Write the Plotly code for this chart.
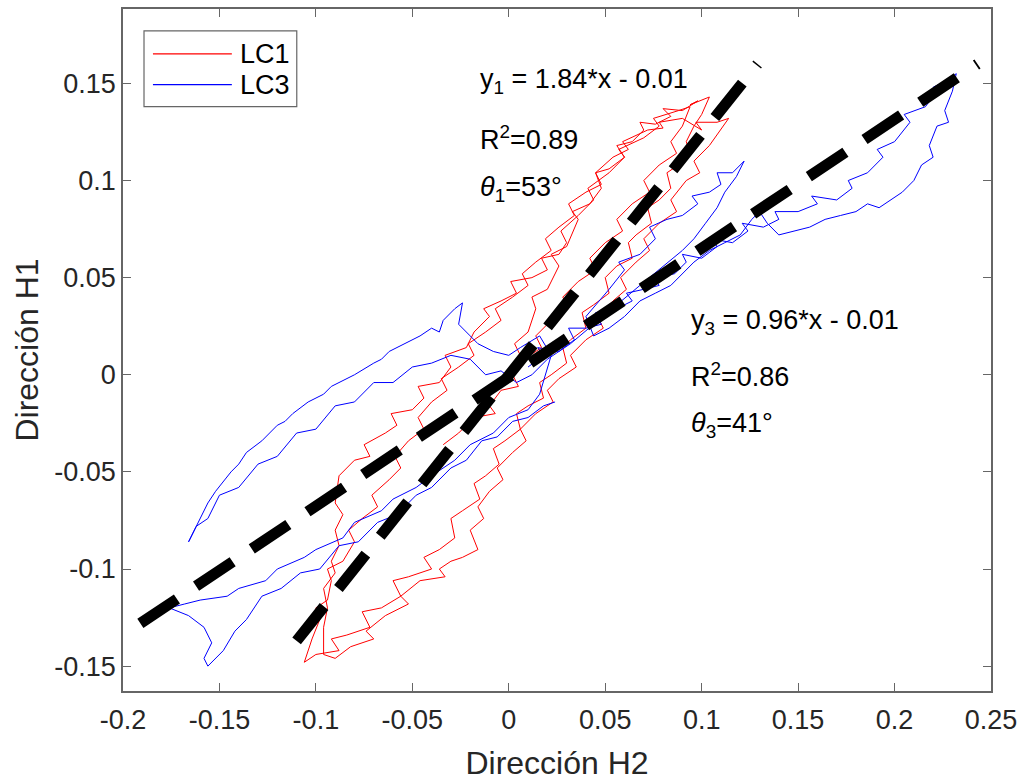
import plotly.graph_objects as go

# ---------------- data ----------------
lc1_x = [0.000, 0.006, 0.003, 0.010, 0.014, 0.012, 0.020, 0.026, 0.022, 0.030, 0.036, 0.033, 0.042, 0.048, 0.045,
         0.052, 0.060, 0.056, 0.064, 0.070, 0.068, 0.076, 0.084, 0.080, 0.090, 0.098, 0.094, 0.104,
         0.100, 0.096, 0.092, 0.094, 0.088, 0.082, 0.084, 0.078, 0.072, 0.074, 0.066, 0.062, 0.064, 0.056, 0.050,
         0.052, 0.044, 0.038, 0.040, 0.032, 0.028, 0.030, 0.022, 0.016, 0.018, 0.010, 0.004, 0.006, -0.002, -0.008,
         -0.005, -0.012, -0.018, -0.015, -0.024, -0.030, -0.028, -0.036, -0.044, -0.040, -0.052, -0.060, -0.056,
         -0.066, -0.076, -0.072, -0.084, -0.092, -0.088, -0.100, -0.106,
         -0.102, -0.098, -0.100, -0.094, -0.092, -0.094, -0.086, -0.080, -0.083, -0.076, -0.068, -0.071, -0.062,
         -0.056, -0.059, -0.052, -0.044, -0.047, -0.040, -0.032, -0.035, -0.026, -0.018, -0.021, -0.012, -0.004,
         -0.007, 0.002, 0.010, 0.007, 0.014, 0.022, 0.019, 0.026, 0.034, 0.031, 0.040, 0.048, 0.045, 0.054,
         0.062, 0.059, 0.072, 0.080, 0.078, 0.090, 0.100, 0.097, 0.108, 0.114,
         0.104, 0.096, 0.099, 0.092, 0.084, 0.087, 0.078, 0.070, 0.073, 0.066, 0.058, 0.061, 0.054, 0.046, 0.049,
         0.040, 0.032, 0.035, 0.026, 0.020, 0.023, 0.014, 0.006, 0.009, 0.002, -0.006, -0.003, -0.010, -0.016,
         -0.013, -0.020, -0.016, -0.024, -0.030, -0.036, -0.033, -0.046, -0.056, -0.052, -0.064, -0.074, -0.070,
         -0.082, -0.090, -0.096,
         -0.096, -0.094, -0.096, -0.090, -0.092, -0.088, -0.090, -0.086, -0.090, -0.088, -0.080, -0.072, -0.075,
         -0.064, -0.058, -0.061, -0.050, -0.044, -0.047, -0.036, -0.030, -0.033, -0.022, -0.018, -0.010, -0.013,
         -0.004, 0.004, 0.001, 0.012, 0.020, 0.017, 0.026, 0.030, 0.027, 0.036, 0.044, 0.041, 0.052, 0.060,
         0.057, 0.070, 0.078, 0.075, 0.088, 0.094,
         0.090, 0.084, 0.087, 0.078, 0.070, 0.073, 0.064, 0.056, 0.059, 0.050, 0.042, 0.045, 0.036, 0.028, 0.031,
         0.022, 0.014, 0.017, 0.008, 0.002, 0.005, -0.004, -0.010, -0.007, -0.018, -0.026, -0.034]
lc1_y = [0.002, 0.010, 0.016, 0.022, 0.034, 0.040, 0.044, 0.056, 0.062, 0.066, 0.080, 0.084, 0.088, 0.096, 0.104,
         0.106, 0.112, 0.118, 0.120, 0.126, 0.130, 0.129, 0.133, 0.137, 0.136, 0.141, 0.139, 0.143,
         0.134, 0.128, 0.120, 0.114, 0.108, 0.104, 0.096, 0.090, 0.086, 0.078, 0.072, 0.068, 0.060, 0.056, 0.050,
         0.042, 0.036, 0.032, 0.024, 0.018, 0.014, 0.006, 0.000, -0.004, -0.012, -0.016, -0.020, -0.028, -0.034,
         -0.038, -0.046, -0.052, -0.056, -0.064, -0.070, -0.074, -0.084, -0.090, -0.094, -0.100, -0.104, -0.106,
         -0.114, -0.120, -0.122, -0.130, -0.134, -0.136, -0.142, -0.144, -0.148,
         -0.136, -0.126, -0.120, -0.116, -0.106, -0.100, -0.096, -0.086, -0.080, -0.074, -0.068, -0.062, -0.054,
         -0.048, -0.042, -0.034, -0.028, -0.022, -0.014, -0.008, -0.002, 0.004, 0.010, 0.016, 0.022, 0.028,
         0.034, 0.040, 0.046, 0.052, 0.058, 0.064, 0.070, 0.076, 0.082, 0.088, 0.094, 0.098, 0.104, 0.112,
         0.116, 0.120, 0.126, 0.127, 0.130, 0.132, 0.126, 0.130, 0.130, 0.132,
         0.118, 0.110, 0.104, 0.100, 0.090, 0.084, 0.078, 0.070, 0.064, 0.058, 0.050, 0.044, 0.038, 0.030, 0.024,
         0.018, 0.010, 0.004, -0.002, -0.008, -0.014, -0.020, -0.028, -0.034, -0.040, -0.048, -0.054, -0.060,
         -0.068, -0.074, -0.080, -0.090, -0.094, -0.096, -0.100, -0.104, -0.106, -0.114, -0.118, -0.124, -0.132,
         -0.136, -0.140, -0.146, -0.144,
         -0.130, -0.120, -0.110, -0.102, -0.096, -0.088, -0.080, -0.072, -0.066, -0.052, -0.044, -0.042, -0.036,
         -0.030, -0.026, -0.020, -0.018, -0.012, -0.006, -0.004, 0.004, 0.010, 0.014, 0.022, 0.030, 0.034,
         0.038, 0.042, 0.048, 0.050, 0.054, 0.060, 0.062, 0.068, 0.074, 0.082, 0.090, 0.096, 0.104, 0.112,
         0.116, 0.122, 0.128, 0.132, 0.136, 0.138,
         0.128, 0.120, 0.114, 0.108, 0.100, 0.094, 0.088, 0.080, 0.074, 0.068, 0.060, 0.054, 0.048, 0.040, 0.034,
         0.028, 0.020, 0.014, 0.008, 0.000, -0.006, -0.008, -0.016, -0.020, -0.022, -0.030, -0.036]

lc3_x = [0.010, 0.018, 0.015, 0.026, 0.034, 0.031, 0.040, 0.048, 0.045, 0.056, 0.064, 0.061, 0.070, 0.078, 0.075,
         0.086, 0.092, 0.090, 0.100, 0.108, 0.105, 0.116, 0.124, 0.121, 0.132, 0.140, 0.138, 0.150, 0.160, 0.157,
         0.170, 0.178, 0.176, 0.186, 0.194, 0.191, 0.200, 0.208, 0.205, 0.216, 0.222, 0.220, 0.228, 0.232,
         0.230, 0.226, 0.228, 0.222, 0.218, 0.220, 0.214, 0.210, 0.204, 0.198, 0.192, 0.186, 0.180, 0.172, 0.164,
         0.156, 0.148, 0.140, 0.134, 0.130, 0.126, 0.120, 0.112, 0.104, 0.096, 0.090, 0.084, 0.076, 0.068, 0.060,
         0.052, 0.044, 0.040,
         0.052, 0.060, 0.057, 0.068, 0.076, 0.073, 0.082, 0.090, 0.098, 0.095, 0.104, 0.110, 0.108, 0.116, 0.122,
         0.118, 0.112, 0.108, 0.102, 0.096, 0.090, 0.080, 0.068, 0.056, 0.044, 0.032, 0.020, 0.012,
         0.004, -0.004, -0.012, -0.020, -0.030, -0.040, -0.050, -0.060, -0.070, -0.080, -0.090, -0.100, -0.110,
         -0.120, -0.130, -0.140, -0.150, -0.156, -0.162, -0.166,
         -0.160, -0.156, -0.152, -0.144, -0.140, -0.136, -0.128, -0.120, -0.116, -0.112, -0.104, -0.096, -0.092,
         -0.088, -0.080, -0.070, -0.066, -0.062, -0.054, -0.046, -0.040, -0.036, -0.034, -0.028, -0.024,
         -0.026, -0.020, -0.016, -0.008, 0.000, 0.006, 0.016, 0.022, 0.016, 0.010, 0.000, -0.008, -0.020, -0.028,
         -0.040, -0.048, -0.060, -0.066, -0.080, -0.086, -0.100, -0.106, -0.120, -0.126, -0.140, -0.146, -0.160,
         -0.168, -0.176,
         -0.166, -0.158, -0.154, -0.158, -0.156, -0.148, -0.142, -0.136, -0.128, -0.118, -0.108, -0.098, -0.088,
         -0.078, -0.068, -0.058, -0.048, -0.040, -0.030, -0.022, -0.014, -0.006, 0.002, 0.010, 0.018, 0.024]
lc3_y = [0.004, 0.010, 0.014, 0.012, 0.018, 0.024, 0.024, 0.026, 0.032, 0.034, 0.038, 0.042, 0.044, 0.046, 0.050,
         0.052, 0.058, 0.062, 0.060, 0.066, 0.070, 0.068, 0.074, 0.078, 0.076, 0.080, 0.084, 0.084, 0.088, 0.092,
         0.090, 0.096, 0.100, 0.104, 0.112, 0.116, 0.120, 0.130, 0.134, 0.138, 0.146, 0.148, 0.152, 0.155,
         0.146, 0.136, 0.130, 0.128, 0.118, 0.112, 0.108, 0.100, 0.094, 0.090, 0.086, 0.088, 0.084, 0.082, 0.080,
         0.076, 0.074, 0.072, 0.078, 0.084, 0.080, 0.072, 0.068, 0.064, 0.058, 0.052, 0.046, 0.042, 0.038, 0.030,
         0.024, 0.020, 0.030,
         0.044, 0.054, 0.058, 0.062, 0.070, 0.076, 0.080, 0.082, 0.088, 0.092, 0.094, 0.098, 0.104, 0.104, 0.110,
         0.102, 0.094, 0.086, 0.078, 0.070, 0.064, 0.056, 0.046, 0.036, 0.026, 0.016, 0.008, 0.000,
         -0.004, 0.002, 0.000, 0.008, 0.010, 0.006, 0.004, -0.004, -0.004, -0.014, -0.016, -0.028, -0.030,
         -0.042, -0.046, -0.058, -0.062, -0.074, -0.078, -0.086,
         -0.074, -0.066, -0.060, -0.050, -0.046, -0.040, -0.034, -0.026, -0.024, -0.020, -0.014, -0.010, -0.006,
         -0.004, 0.000, 0.006, 0.008, 0.012, 0.016, 0.020, 0.024, 0.022, 0.028, 0.034, 0.037,
         0.026, 0.020, 0.016, 0.012, 0.010, 0.014, 0.020, 0.010, -0.010, -0.018, -0.022, -0.030, -0.036, -0.044,
         -0.052, -0.058, -0.064, -0.070, -0.076, -0.084, -0.090, -0.094, -0.100, -0.106, -0.110, -0.114, -0.116,
         -0.118, -0.120,
         -0.124, -0.130, -0.138, -0.146, -0.150, -0.142, -0.132, -0.126, -0.114, -0.110, -0.102, -0.100, -0.088,
         -0.086, -0.076, -0.072, -0.062, -0.058, -0.048, -0.044, -0.034, -0.032, -0.024, -0.022, -0.016, -0.014]

fit1_x = [-0.110, 0.129]
fit1_y = [-0.137, 0.160]
fit3_x = [-0.191, 0.243]
fit3_y = [-0.128, 0.160]

x_ticks = [-0.2, -0.15, -0.1, -0.05, 0, 0.05, 0.1, 0.15, 0.2, 0.25]
x_tick_labels = ["-0.2", "-0.15", "-0.1", "-0.05", "0", "0.05", "0.1", "0.15", "0.2", "0.25"]
y_ticks = [-0.15, -0.1, -0.05, 0, 0.05, 0.1, 0.15]
y_tick_labels = ["-0.15", "-0.1", "-0.05", "0", "0.05", "0.1", "0.15"]

series_names = ["LC1", "LC3"]
eq1_lines = ["y<sub>1</sub> = 1.84*x - 0.01", "R<sup>2</sup>=0.89", "<i>θ</i><sub>1</sub>=53°"]
eq3_lines = ["y<sub>3</sub> = 0.96*x - 0.01", "R<sup>2</sup>=0.86", "<i>θ</i><sub>3</sub>=41°"]

assert len(lc1_x) == len(lc1_y) and len(lc3_x) == len(lc3_y)

# ---------------- figure ----------------
FONT = "Liberation Sans, Arial, Helvetica, sans-serif"
RED = "#ff0000"
BLUE = "#0000ff"
TXT = "#262626"

fig = go.Figure()
fig.add_trace(go.Scatter(x=lc1_x, y=lc1_y, mode="lines", name=series_names[0],
                         line=dict(color=RED, width=1)))
fig.add_trace(go.Scatter(x=lc3_x, y=lc3_y, mode="lines", name=series_names[1],
                         line=dict(color=BLUE, width=1)))
fig.add_trace(go.Scatter(x=fit1_x, y=fit1_y, mode="lines", showlegend=False,
                         line=dict(color="black", width=11, dash="44px,23px")))
fig.add_trace(go.Scatter(x=fit3_x, y=fit3_y, mode="lines", showlegend=False,
                         line=dict(color="black", width=11, dash="44px,23px")))

axis_common = dict(showgrid=False, zeroline=False, showline=True, linecolor="#666666", linewidth=1.5,
                   mirror="ticks", ticks="inside", ticklen=8, tickcolor="#666666", tickwidth=1.2,
                   tickfont=dict(family=FONT, size=27, color=TXT))

fig.update_xaxes(range=[-0.2, 0.25], tickvals=x_ticks, ticktext=x_tick_labels, ticklabelstandoff=4,
                 title=dict(text="Dirección H2", font=dict(family=FONT, size=32, color=TXT), standoff=17),
                 **axis_common)
fig.update_yaxes(range=[-0.1628, 0.1883], tickvals=y_ticks, ticktext=y_tick_labels,
                 title=dict(text="Dirección H1", font=dict(family=FONT, size=32, color=TXT), standoff=6),
                 **axis_common)

# equation annotations
ann = []
eq1_y = [0.151, 0.122, 0.0956]
eq3_y = [0.027, -0.0003, -0.026]
for t, yy in zip(eq1_lines, eq1_y):
    ann.append(dict(x=-0.016, y=yy, xref="x", yref="y", text=t, showarrow=False,
                    xanchor="left", yanchor="middle", font=dict(family=FONT, size=27, color="black")))
for t, yy in zip(eq3_lines, eq3_y):
    ann.append(dict(x=0.0936, y=yy, xref="x", yref="y", text=t, showarrow=False,
                    xanchor="left", yanchor="middle", font=dict(family=FONT, size=27, color="black")))

# manual legend (MATLAB style, long line samples)
shapes = [dict(type="rect", xref="paper", yref="paper", x0=0.0242, x1=0.2002, y0=0.8569, y1=0.9679,
               line=dict(color="#666666", width=1.2), fillcolor="white", layer="above")]
for name, col, yy in [(series_names[0], RED, 0.9343), (series_names[1], BLUE, 0.8891)]:
    shapes.append(dict(type="line", xref="paper", yref="paper", x0=0.0345, x1=0.1254, y0=yy, y1=yy,
                       line=dict(color=col, width=1.2), layer="above"))
    ann.append(dict(x=0.1323, y=yy, xref="paper", yref="paper", text=name, showarrow=False,
                    xanchor="left", yanchor="middle", font=dict(family=FONT, size=27, color="black")))

fig.update_layout(width=1024, height=782, autosize=False,
                  margin=dict(l=123, r=32, t=7, b=90),
                  paper_bgcolor="white", plot_bgcolor="white",
                  showlegend=False, shapes=shapes, annotations=ann,
                  font=dict(family=FONT, color=TXT))

fig.write_html("out.html")
